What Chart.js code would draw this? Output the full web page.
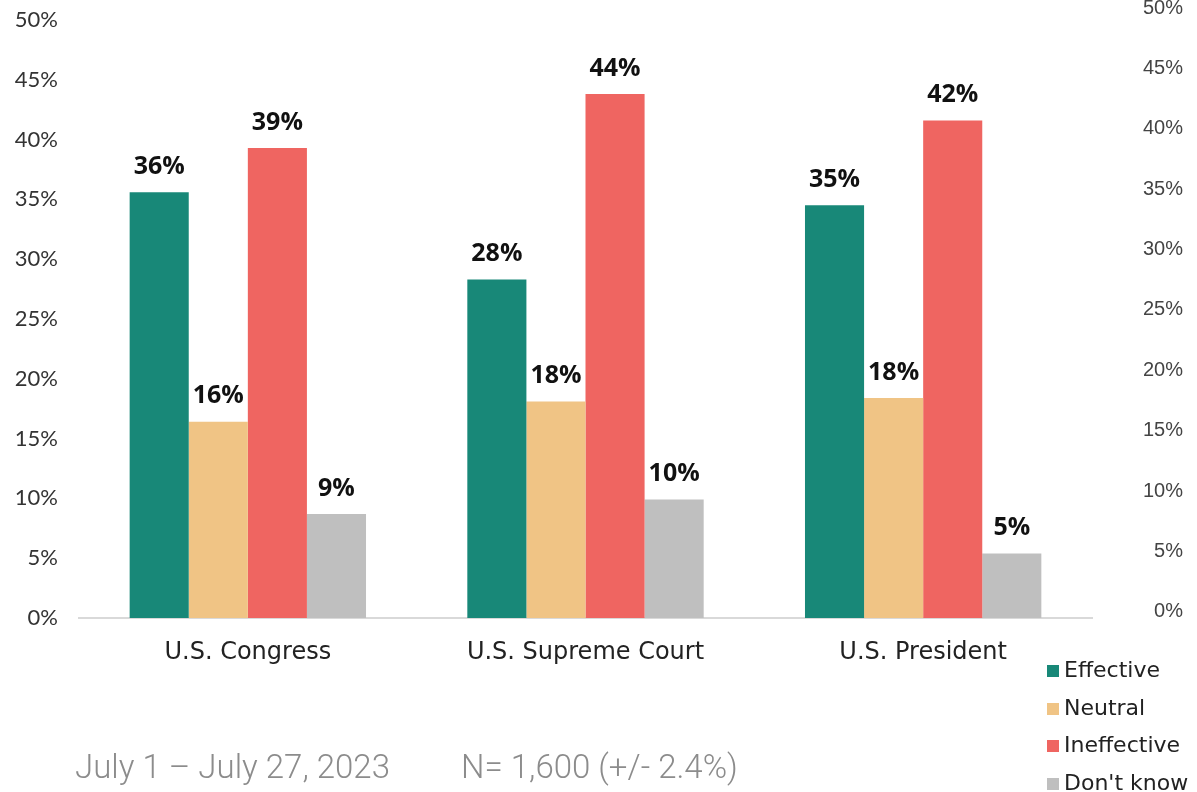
<!DOCTYPE html>
<html>
<head>
<meta charset="utf-8">
<script src="https://cdn.jsdelivr.net/npm/chart.js@4.4.0/dist/chart.umd.min.js"></script>
<style>
  html, body { margin: 0; padding: 0; background: #fff; }
  #wrap { position: relative; width: 1197px; height: 792px; overflow: hidden; }
  .foot { position: absolute; top: 747px; font-family: Roboto, sans-serif; font-weight: 300;
    font-size: 33px; color: #8c8c8c; white-space: nowrap; }
  #legend { position: absolute; left: 1047px; top: 654px; font-family: "DejaVu Sans", sans-serif; font-size: 22px; color: #222; }
  #legend div { height: 37.5px; line-height: 32px; white-space: nowrap; }
  #legend span { display: inline-block; width: 12px; height: 12px; margin-right: 5px; vertical-align: 0px; }
</style>
</head>
<body>
<div id="wrap">
  <canvas id="myChart" width="1197" height="792"></canvas>
  <div id="legend"></div>
  <div class="foot" style="left:75px">July 1 – July 27, 2023</div>
  <div class="foot" style="left:461px">N= 1,600 (+/- 2.4%)</div>
</div>
<script>
// data
var categories = ["U.S. Congress", "U.S. Supreme Court", "U.S. President"];
var seriesNames = ["Effective", "Neutral", "Ineffective", "Don't know"];
var effective = [35.6, 28.3, 34.5];
var neutral = [16.4, 18.1, 18.4];
var ineffective = [39.3, 43.8, 41.6];
var dontKnow = [8.7, 9.9, 5.4];
var tickValues = [0, 5, 10, 15, 20, 25, 30, 35, 40, 45, 50];
var colors = ["#188878", "#f0c485", "#ef6561", "#bfbfbf"];

var allSeries = [effective, neutral, ineffective, dontKnow];
var datasets = [];
for (var i = 0; i < allSeries.length; i++) {
  datasets.push({
    label: seriesNames[i],
    data: allSeries[i],
    backgroundColor: colors[i],
    yAxisID: "y",
    categoryPercentage: 0.7,
    barPercentage: 1.0
  });
}

// labels above bars
var barLabels = {
  id: "barLabels",
  afterDatasetsDraw: function(chart) {
    var ctx = chart.ctx;
    ctx.save();
    ctx.font = "bold 25px 'Open Sans', sans-serif";
    ctx.fillStyle = "#111";
    ctx.textAlign = "center";
    ctx.textBaseline = "bottom";
    chart.data.datasets.forEach(function(ds, di) {
      chart.getDatasetMeta(di).data.forEach(function(bar, j) {
        ctx.fillText(Math.round(ds.data[j]) + "%", bar.x, bar.y - 13);
      });
    });
    ctx.restore();
  }
};

function keepTicks(scale) {
  scale.ticks = tickValues.map(function(v) { return { value: v }; });
}

new Chart(document.getElementById("myChart"), {
  type: "bar",
  data: { labels: categories, datasets: datasets },
  plugins: [barLabels],
  options: {
    responsive: false,
    animation: false,
    layout: { padding: { top: 8, left: 0, right: 14, bottom: 0 } },
    plugins: { legend: { display: false }, tooltip: { enabled: false } },
    scales: {
      x: {
        grid: { display: false },
        border: { display: true, color: "#d9d9d9", width: 2 },
        ticks: { color: "#222", font: { family: "DejaVu Sans", size: 24 }, padding: 12 },
        afterFit: function(scale) { scale.height = 174; scale.paddingLeft = 0; scale.paddingRight = 0; }
      },
      y: {
        position: "left",
        min: 0,
        max: 51,
        grid: { display: false },
        border: { display: false },
        afterBuildTicks: keepTicks,
        ticks: {
          color: "#333", font: { family: "Lato", size: 22 }, padding: 13,
          callback: function(v) { return v + "%"; }
        },
        afterFit: function(scale) { scale.width = 79; scale.paddingTop = 0; scale.paddingBottom = 0; }
      },
      y2: {
        position: "right",
        min: -0.5,
        max: 50,
        grid: { display: false },
        border: { display: false },
        afterBuildTicks: keepTicks,
        ticks: {
          color: "#444", font: { family: "Liberation Sans", size: 20 }, padding: 0,
          crossAlign: "far",
          callback: function(v) { return v + "%"; }
        },
        afterFit: function(scale) { scale.width = 91; scale.paddingTop = 0; scale.paddingBottom = 0; }
      }
    }
  }
});

// legend list
var legend = document.getElementById("legend");
for (var k = 0; k < seriesNames.length; k++) {
  var row = document.createElement("div");
  row.innerHTML = '<span style="background:' + colors[k] + '"></span>' + seriesNames[k];
  legend.appendChild(row);
}
</script>
</body>
</html>
